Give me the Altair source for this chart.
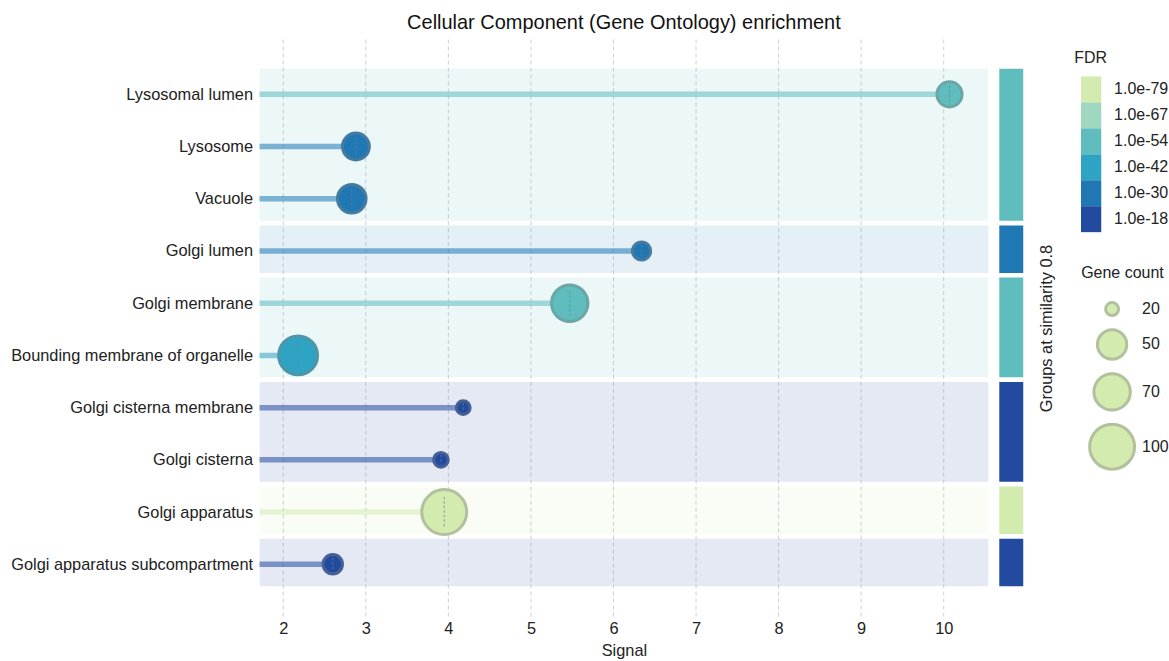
import json
import altair as alt
import pandas as pd

# GO cellular-component terms, top to bottom
TERMS = [
    "Lysosomal lumen",
    "Lysosome",
    "Vacuole",
    "Golgi lumen",
    "Golgi membrane",
    "Bounding membrane of organelle",
    "Golgi cisterna membrane",
    "Golgi cisterna",
    "Golgi apparatus",
    "Golgi apparatus subcompartment",
]
SIGNAL = [10.07, 2.88, 2.83, 6.34, 5.47, 2.18, 4.18, 3.91, 3.95, 2.60]
GENE_COUNT = [40, 44, 48, 27, 70, 78, 21, 22, 100, 29]
FDR = ["1.0e-54", "1.0e-30", "1.0e-30", "1.0e-30", "1.0e-54",
       "1.0e-42", "1.0e-18", "1.0e-18", "1.0e-79", "1.0e-18"]
GROUP = [1, 1, 1, 2, 3, 3, 4, 4, 5, 6]

FDR_LEVELS = ["1.0e-79", "1.0e-67", "1.0e-54", "1.0e-42", "1.0e-30", "1.0e-18"]
PALETTE = ["#d4ebb0", "#9fd7bf", "#5fbebd", "#2fa3c3", "#1f78b4", "#224ba0"]
SIZE_LEGEND_VALUES = [20, 50, 70, 100]
X_TICKS = [2, 3, 4, 5, 6, 7, 8, 9, 10]

X_MIN, X_MAX = 1.713, 10.54
PLOT_W, PLOT_H = 730, 578
FONT = "Liberation Sans"
TEXT = "#222222"


def mix(a, b, t):
    """Blend hex colour a towards b by fraction t."""
    ca = [int(a[i:i + 2], 16) for i in (1, 3, 5)]
    cb = [int(b[i:i + 2], 16) for i in (1, 3, 5)]
    return "#" + "".join(f"{round(x + (y - x) * t):02x}" for x, y in zip(ca, cb))


level_color = dict(zip(FDR_LEVELS, PALETTE))

df = pd.DataFrame({
    "term": TERMS,
    "row": list(range(len(TERMS))),
    "signal": SIGNAL,
    "genes": GENE_COUNT,
    "fdr": FDR,
    "group": GROUP,
})
df["hue"] = df["fdr"].map(level_color)
df["edge"] = df["hue"].map(lambda c: mix(c, "#808080", 0.4))

grp = (
    df.groupby("group")
    .agg(first=("row", "min"), last=("row", "max"), hue=("hue", "first"))
    .reset_index()
)
grp["start"] = grp["first"] - 0.49
grp["end"] = grp["last"] + 0.42

x_scale = alt.Scale(domain=[X_MIN, X_MAX], zero=False, nice=False)
y_scale = alt.Scale(domain=[-1.05, 10.0], reverse=True, zero=False, nice=False)
size_scale = alt.Scale(type="linear", domain=[20, 100], range=[169, 2025], zero=False)

x_axis = alt.Axis(
    values=X_TICKS, grid=False, ticks=False, domain=False,
    labelFontSize=16.4, labelColor=TEXT, labelPadding=4,
    title="Signal", titleFontSize=16.4, titleFontWeight="normal",
    titleColor=TEXT, titlePadding=6,
)
y_axis = alt.Axis(
    values=list(range(len(TERMS))),
    labelExpr=json.dumps(TERMS) + "[datum.value]",
    grid=False, ticks=False, domain=False,
    labelFontSize=16.4, labelColor=TEXT, labelPadding=7, labelLimit=400,
    title=None,
)

X = lambda f: alt.X(f, scale=x_scale, axis=x_axis)
Y = lambda f: alt.Y(f, scale=y_scale, axis=y_axis)

# group background bands
bands = alt.Chart(grp).mark_rect(fillOpacity=0.12).encode(
    y=Y("start:Q"), y2="end:Q",
    color=alt.Color("hue:N", scale=None),
)

# dashed vertical gridlines
grid = alt.Chart(pd.DataFrame({"tick": X_TICKS})).mark_rule(
    strokeDash=[4, 3], color="#7f8c9d", opacity=0.4, strokeWidth=1
).encode(x=X("tick:Q"))

# lollipop stems
stems = alt.Chart(df).mark_rule(strokeWidth=5.5, strokeOpacity=0.55).encode(
    x=X("signal:Q"), x2=alt.datum(X_MIN), y=Y("row:Q"),
    color=alt.Color("hue:N", scale=None),
)

# lollipop heads; legends sit to the right of the group strip
heads = alt.Chart(df).mark_circle(opacity=1, strokeWidth=3).encode(
    x=X("signal:Q"), y=Y("row:Q"),
    fill=alt.Fill(
        "fdr:N", scale=alt.Scale(domain=FDR_LEVELS, range=PALETTE), title="FDR",
        legend=alt.Legend(
            orient="none", legendX=816, legendY=11,
            symbolType="M-0.78,-1H0.78V1H-0.78Z", symbolSize=676,
            symbolStrokeWidth=0, symbolOpacity=1, rowPadding=0,
            symbolOffset=4, labelOffset=10, labelFontSize=16, titleFontSize=16,
            titleFontWeight="normal", titlePadding=10, labelColor=TEXT,
            titleColor=TEXT,
        ),
    ),
    size=alt.Size(
        "genes:Q", scale=size_scale, title="Gene count",
        legend=alt.Legend(
            orient="none", legendX=823, legendY=226,
            values=SIZE_LEGEND_VALUES, symbolType="circle",
            symbolFillColor="#d4ebb0", symbolStrokeColor="#b2c09d",
            symbolStrokeWidth=3, symbolOpacity=1, rowPadding=1,
            symbolOffset=7, labelOffset=6, labelFontSize=16, titleFontSize=16,
            titleFontWeight="normal", titlePadding=20, labelColor=TEXT,
            titleColor=TEXT,
        ),
    ),
    stroke=alt.Stroke("edge:N", scale=None),
)

# small dashed centre marks inside each head
centres = alt.Chart(df).mark_point(
    shape="M0,-0.68V0.68", filled=False, strokeDash=[2.5, 2],
    strokeWidth=1, color="#6f7f90", opacity=0.75,
).encode(
    x=X("signal:Q"), y=Y("row:Q"),
    size=alt.Size("genes:Q", scale=size_scale, legend=None),
)

main = alt.layer(bands, grid, stems, heads, centres).properties(
    width=PLOT_W, height=PLOT_H,
    title=alt.Title(
        "Cellular Component (Gene Ontology) enrichment",
        fontSize=20, fontWeight="normal", anchor="middle", color="#111111",
        offset=6,
    ),
)

strip = alt.Chart(grp).mark_rect().encode(
    y=alt.Y(
        "start:Q", scale=y_scale,
        axis=alt.Axis(
            orient="right", labels=False, ticks=False, domain=False, grid=False,
            title="Groups at similarity 0.8", titleAngle=270, titleBaseline="top",
            titleFontSize=16.4, titleFontWeight="normal", titleColor=TEXT,
            titlePadding=15,
        ),
    ),
    y2="end:Q",
    color=alt.Color("hue:N", scale=None),
).properties(width=24, height=PLOT_H)

chart = (
    alt.hconcat(main, strip, spacing=11)
    .properties(padding={"top": 12, "left": 10, "right": 0, "bottom": 0})
    .configure(font=FONT)
    .configure_view(stroke=None)
)

chart.save("out.html", embed_options={"renderer": "svg", "actions": False})
